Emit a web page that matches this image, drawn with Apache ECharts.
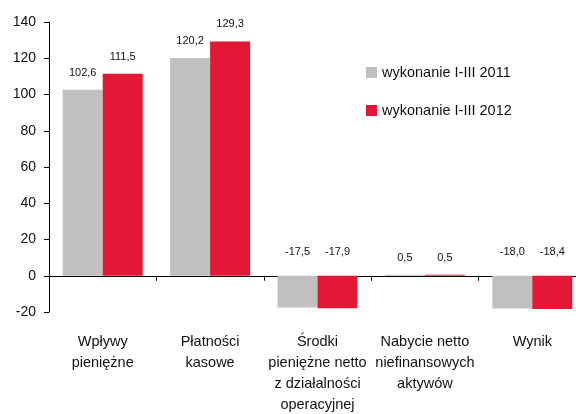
<!DOCTYPE html>
<html>
<head>
<meta charset="utf-8">
<script src="https://cdn.jsdelivr.net/npm/echarts@6/dist/echarts.min.js"></script>
<style>
html,body{margin:0;padding:0;background:#fff;}
#chart{width:576px;height:414px;}
</style>
</head>
<body>
<div id="chart"></div>
<script>
const categories = [
  'Wpływy\npieniężne',
  'Płatności\nkasowe',
  'Środki\npieniężne netto\nz działalności\noperacyjnej',
  'Nabycie netto\nniefinansowych\naktywów',
  'Wynik'
];
const seriesNames = ['wykonanie I-III 2011', 'wykonanie I-III 2012'];
const values2011 = [102.6, 120.2, -17.5, 0.5, -18.0];
const values2012 = [111.5, 129.3, -17.9, 0.5, -18.4];
const yTicks = { min: -20, max: 140, interval: 20 };

const colors = ['#C0C0C0', '#E31837'];
const FONT = '"Liberation Sans", Arial, sans-serif';

function buildData(vals) {
  return vals.map(v => ({
    value: v,
    label: {
      position: ['50%', v < 0 ? -24 : -17]
    }
  }));
}

const labelCfg = {
  show: true,
  align: 'center',
  verticalAlign: 'middle',
  fontSize: 11,
  fontFamily: FONT,
  color: '#111',
  formatter: p => p.value.toFixed(1).replace('.', ',')
};

const chart = echarts.init(document.getElementById('chart'), null, { renderer: 'canvas' });
chart.setOption({
  animation: false,
  backgroundColor: '#fff',
  grid: { left: 49, right: -10, top: 22, bottom: 102, containLabel: false, outerBoundsMode: 'none' },
  legend: [
    {
      data: [seriesNames[0]], orient: 'vertical', left: 361, top: 60,
      itemWidth: 11, itemHeight: 11, itemGap: 5,
      icon: 'rect',
      textStyle: { fontSize: 14.5, fontFamily: FONT, color: '#111' }
    },
    {
      data: [seriesNames[1]], orient: 'vertical', left: 361, top: 98,
      itemWidth: 11, itemHeight: 11, itemGap: 5,
      icon: 'rect',
      textStyle: { fontSize: 14.5, fontFamily: FONT, color: '#111' }
    }
  ],
  xAxis: {
    type: 'category',
    data: categories,
    axisLine: { onZero: true, lineStyle: { color: '#000', width: 1 } },
    axisTick: { show: true, length: 5, inside: false, lineStyle: { color: '#000' } },
    axisLabel: {
      margin: 19, fontSize: 14.5, lineHeight: 21, fontFamily: FONT, color: '#111',
      interval: 0
    }
  },
  yAxis: {
    type: 'value',
    min: yTicks.min, max: yTicks.max, interval: yTicks.interval,
    axisLine: { show: true, lineStyle: { color: '#000', width: 1 } },
    axisTick: { show: true, length: 5, lineStyle: { color: '#000' } },
    splitLine: { show: false },
    axisLabel: { margin: 13, fontSize: 14, fontFamily: FONT, color: '#111' }
  },
  series: [
    {
      name: seriesNames[0], type: 'bar', barWidth: 40, barGap: '0%',
      itemStyle: { color: colors[0] },
      label: labelCfg,
      data: buildData(values2011)
    },
    {
      name: seriesNames[1], type: 'bar', barWidth: 40, barGap: '0%',
      itemStyle: { color: colors[1] },
      label: labelCfg,
      data: buildData(values2012)
    }
  ]
});
</script>
</body>
</html>
